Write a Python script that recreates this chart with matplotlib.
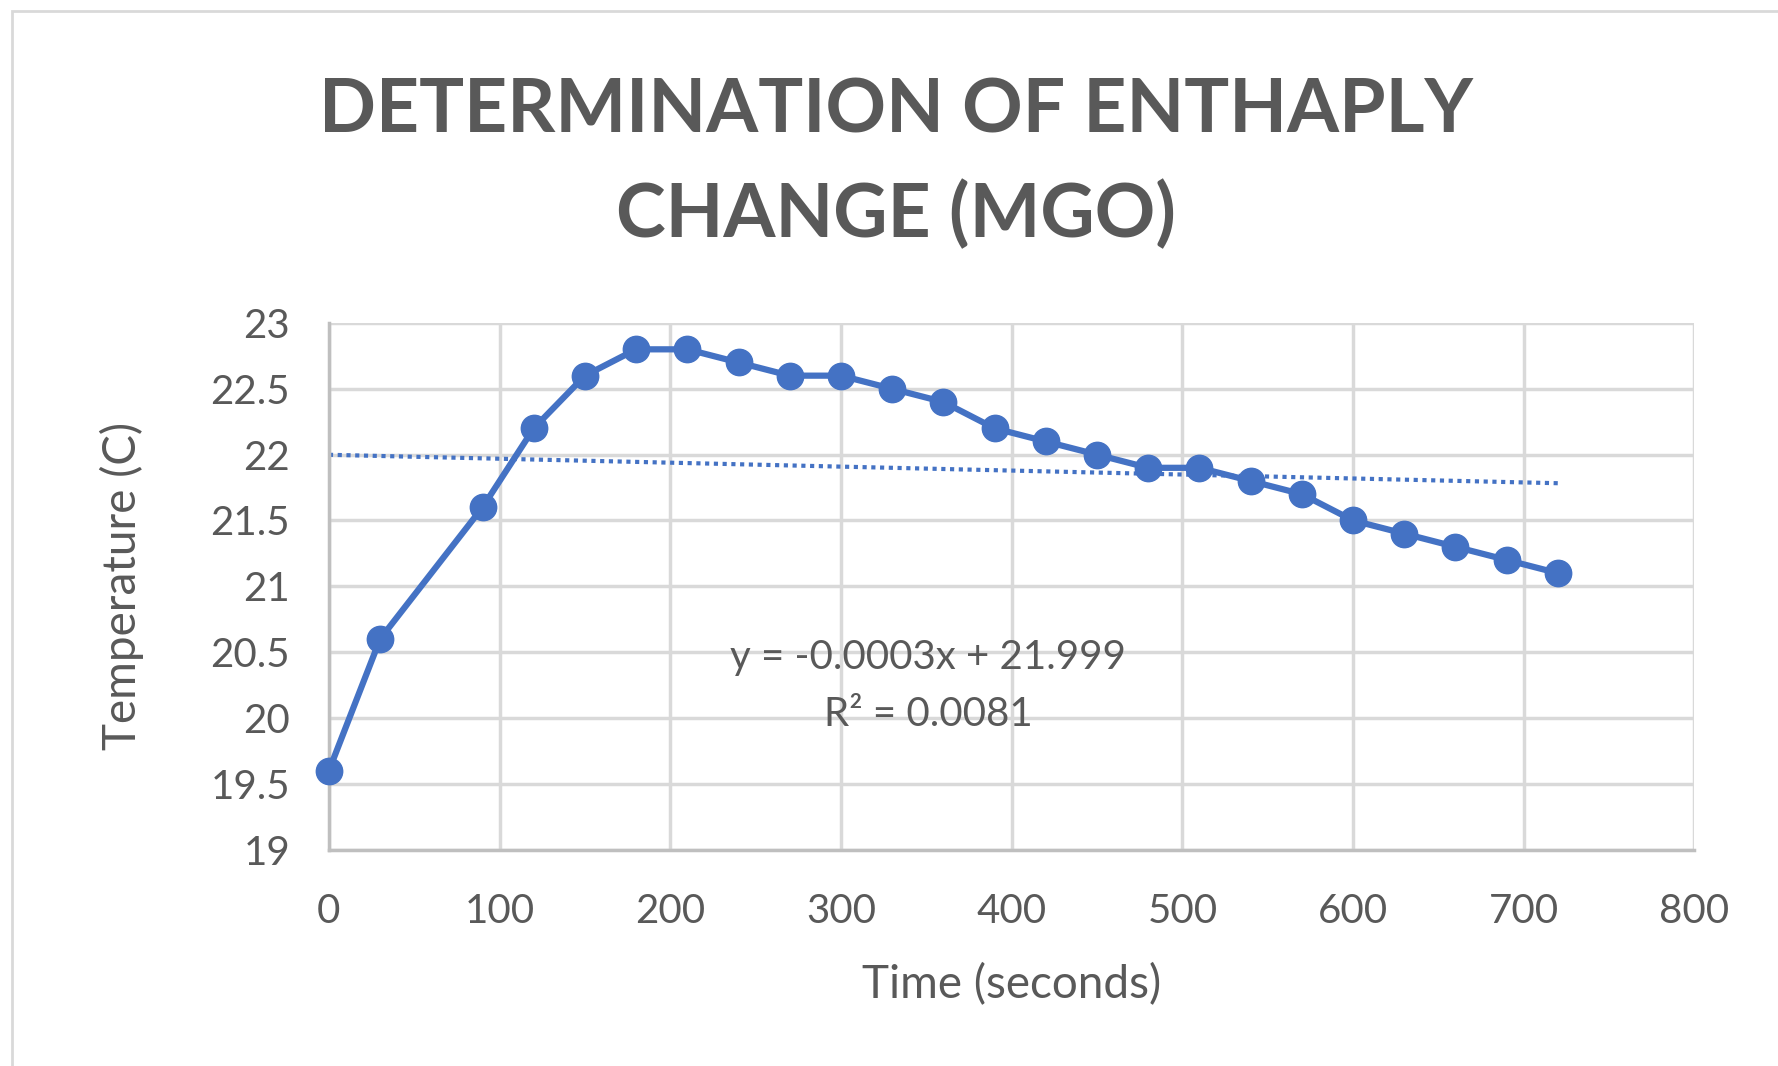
import matplotlib
matplotlib.use("Agg")
import matplotlib.pyplot as plt
from matplotlib.patches import Rectangle

time_s = [0, 30, 90, 120, 150, 180, 210, 240, 270, 300, 330, 360, 390, 420,
          450, 480, 510, 540, 570, 600, 630, 660, 690, 720]
temp_c = [19.6, 20.6, 21.6, 22.2, 22.6, 22.8, 22.8, 22.7, 22.6, 22.6, 22.5, 22.4,
          22.2, 22.1, 22.0, 21.9, 21.9, 21.8, 21.7, 21.5, 21.4, 21.3, 21.2, 21.1]
trend_slope = -0.0003
trend_intercept = 21.999
trend_r2 = 0.0081
x_ticks = [0, 100, 200, 300, 400, 500, 600, 700, 800]
y_ticks = [19, 19.5, 20, 20.5, 21, 21.5, 22, 22.5, 23]

plt.rcParams['font.family'] = ['Lato', 'DejaVu Sans']
blue = '#4472C4'
gray_txt = '#595959'

fig = plt.figure(figsize=(17.78, 10.66), dpi=100)
fig.patches.append(Rectangle((0.007, -0.01), 1.2, 0.9995, transform=fig.transFigure,
                             fill=False, edgecolor='#d9d9d9', linewidth=2))
ax = fig.add_axes([0.185, 0.203, 0.768, 0.494])

ax.plot(time_s, temp_c, color=blue, linewidth=4.5, marker='o', markersize=19,
        zorder=3, clip_on=False)
tx = [time_s[0], time_s[-1]]
ty = [trend_slope * v + trend_intercept for v in tx]
ax.plot(tx, ty, color=blue, linewidth=3, linestyle=(0, (1, 1.1)), zorder=2)

ax.set_xlim(0, 800)
ax.set_ylim(19, 23)
ax.set_xticks(x_ticks)
ax.set_yticks(y_ticks)
ax.set_xticklabels([str(v) for v in x_ticks])
ax.set_yticklabels([f"{v:g}" for v in y_ticks])
ax.grid(True, color='#d9d9d9', linewidth=2.5)
ax.set_axisbelow(True)
for s in ['top', 'right']:
    ax.spines[s].set_visible(False)
for s in ['left', 'bottom']:
    ax.spines[s].set_color('#bfbfbf')
    ax.spines[s].set_linewidth(2.5)
ax.tick_params(length=0, labelsize=29, labelcolor=gray_txt)
ax.tick_params(axis='x', pad=31)
ax.tick_params(axis='y', pad=28)

ax.set_xlabel('Time (seconds)', fontsize=33, color=gray_txt, labelpad=24)
ax.set_ylabel('Temperature (C)', fontsize=33, color=gray_txt, labelpad=48)

ax.text(351, 20.46, f"y = {trend_slope}x + {trend_intercept}", fontsize=29,
        color=gray_txt, ha='center', va='center')
ax.text(351, 20.03, f"R² = {trend_r2}", fontsize=29,
        color=gray_txt, ha='center', va='center')

fig.text(0.504, 0.847, 'DETERMINATION OF ENTHAPLY\nCHANGE (MGO)', fontsize=54,
         fontweight='bold', color=gray_txt, ha='center', va='center',
         linespacing=1.6)

fig.savefig('out.png', dpi=100)
